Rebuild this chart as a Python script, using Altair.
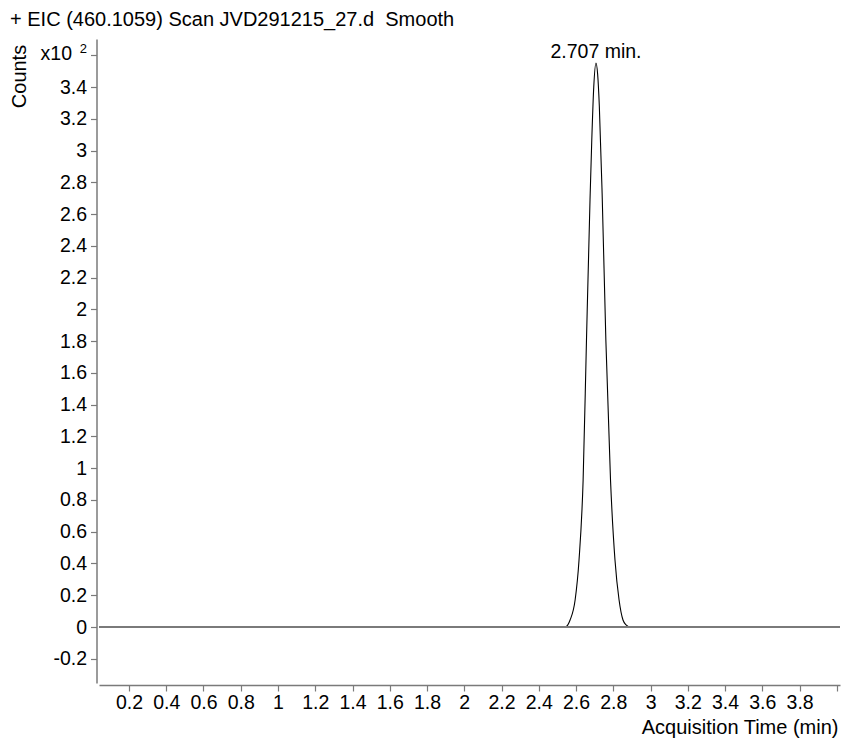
import altair as alt
import pandas as pd

# Chromatogram trace (acquisition time in min, counts x10^2)
times = [0.039, 1.0, 2.0, 2.50, 2.520, 2.541, 2.555, 2.568, 2.595, 2.616, 2.638, 2.656,
         2.675, 2.684, 2.695, 2.707, 2.716, 2.725, 2.740, 2.760, 2.785, 2.809,
         2.831, 2.852, 2.870, 2.890, 2.95, 3.5, 4.017]
counts = [0.0, 0.0, 0.0, 0.0, 0.0, 0.0, 0.012, 0.044, 0.170, 0.422, 0.926, 1.807,
          2.69, 3.05, 3.40, 3.552, 3.48, 3.28, 2.73, 1.807, 0.926, 0.422,
          0.170, 0.044, 0.012, 0.0, 0.0, 0.0, 0.0]

peak_time = [2.707]
peak_count = [3.552]
peak_label = ["2.707 min."]

# y-axis multiplier shown at the top tick: "x10" with exponent "2"
mult_value = [3.6]
mult_text = ["x10"]
mult_exponent = "2"

x_ticks = [0.2, 0.4, 0.6, 0.8, 1.0, 1.2, 1.4, 1.6, 1.8, 2.0, 2.2, 2.4, 2.6, 2.8,
           3.0, 3.2, 3.4, 3.6, 3.8, 4.0]
y_ticks = [-0.2, 0.0, 0.2, 0.4, 0.6, 0.8, 1.0, 1.2, 1.4, 1.6, 1.8, 2.0, 2.2, 2.4,
           2.6, 2.8, 3.0, 3.2, 3.4, 3.6]
x_domain = [0.039, 4.017]
y_domain = [-0.3526, 3.703]

FONT = "Liberation Sans"
GRAY = "#7a7a7a"
LABEL_SIZE = 19.5
TITLE_SIZE = 20

trace = pd.DataFrame({"t": times, "c": counts})
peak = pd.DataFrame({"t": peak_time, "c": peak_count, "label": peak_label})
mult = pd.DataFrame({"c": mult_value, "label": mult_text})
zero = pd.DataFrame({"c": [0.0]})

x_scale = alt.Scale(domain=x_domain, nice=False, zero=False)
y_scale = alt.Scale(domain=y_domain, nice=False, zero=False)

x_axis = alt.Axis(
    values=x_ticks,
    labelExpr="datum.value > 3.95 ? '' : replace(format(datum.value, '.1~f'), '\u2212', '-')",
    labelOverlap=False,
    title="Acquisition Time (min)",
    titleAnchor="end",
    titleAlign="right",
    titleX=739,
    titleY=48,
    titleBaseline="alphabetic",
    titleFontWeight="normal",
    offset=2,
    grid=False,
    tickSize=6,
    labelPadding=2,
)
y_axis = alt.Axis(
    values=y_ticks,
    labelExpr="datum.value > 3.55 ? '" + mult_exponent + "' : replace(format(datum.value, '.1~f'), '\u2212', '-')",
    labelOverlap=False,
    labelFontSize={"condition": {"test": "datum.value > 3.55", "value": 13}, "value": LABEL_SIZE},
    labelOffset={"condition": {"test": "datum.value > 3.55", "value": -7}, "value": 0},
    title="Counts",
    titleAngle=270,
    titleAlign="center",
    titleBaseline="alphabetic",
    titleX=-71.5,
    titleY=37,
    titleFontWeight="normal",
    offset=2.5,
    grid=False,
    tickSize=6,
    labelPadding=4,
)

X = alt.X("t:Q", scale=x_scale, axis=x_axis)
Y = alt.Y("c:Q", scale=y_scale, axis=y_axis)

line = alt.Chart(trace).mark_line(color="black", strokeWidth=1.1, interpolate="monotone").encode(
    x=X, y=Y,
)

rule = alt.Chart(zero).mark_rule(color=GRAY, strokeWidth=2).encode(
    y=Y,
)

text = alt.Chart(peak).mark_text(
    font=FONT, fontSize=LABEL_SIZE, baseline="alphabetic", align="center", dy=-5, color="black"
).encode(
    x=X, y=Y,
    text="label:N",
)

mult_mark = alt.Chart(mult).mark_text(
    font=FONT, fontSize=LABEL_SIZE, baseline="middle", align="right", dy=-1, color="black"
).encode(
    x=alt.value(-27),
    y=Y,
    text="label:N",
)

chart = (
    alt.layer(line, rule, text, mult_mark)
    .properties(
        width=741,
        height=644,
        autosize=alt.AutoSizeParams(type="none"),
        padding={"left": 99, "top": 39, "right": 2, "bottom": 57},
        title=alt.TitleParams(
            "+ EIC (460.1059) Scan JVD291215_27.d\u00a0\u00a0Smooth",
            anchor="start",
            frame="group",
            dx=-89,
            dy=7,
            font=FONT,
            fontSize=TITLE_SIZE,
            fontWeight="normal",
            color="black",
            baseline="alphabetic",
            offset=0,
        ),
    )
    .configure_view(stroke=None)
    .configure_axis(
        labelFont=FONT,
        labelFontSize=LABEL_SIZE,
        labelColor="black",
        titleFont=FONT,
        titleFontSize=TITLE_SIZE,
        titleColor="black",
        domainColor=GRAY,
        domainWidth=1.5,
        tickColor=GRAY,
        tickWidth=1.2,
    )
)

chart.save("out.html", embed_options={"renderer": "svg", "actions": False})
